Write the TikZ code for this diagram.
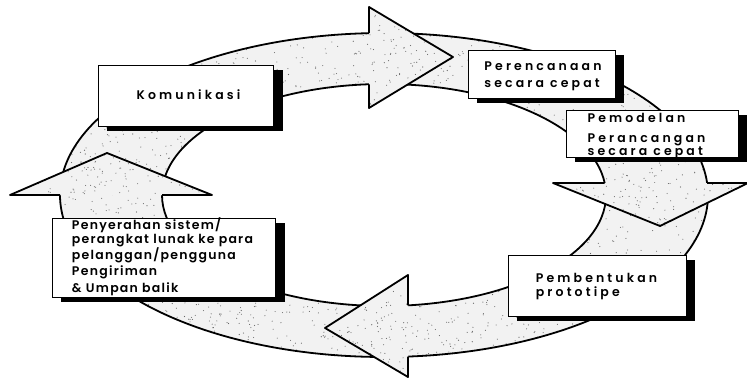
\documentclass[tikz,border=0pt]{standalone}
\usepackage{fontspec}
\setmainfont{Poppins}
\usetikzlibrary{calc}
\newfontfamily\boxfont{Poppins SemiBold}[LetterSpace=25]
\newfontfamily\boxfontn{Poppins SemiBold}[LetterSpace=10]
\begin{document}
\begin{tikzpicture}[x=1pt,y=-1pt,
  ringline/.style={line width=1.8pt, line join=round},
  ringfill/.style={fill=black!5},
  speck/.style={fill=black!60},
  shadowbox/.style={fill=black},
  box/.style={draw=black, line width=1pt, fill=white, inner sep=0pt, anchor=north west},
  boxtext/.style={inner sep=0pt, align=left},
  ]
\useasboundingbox (0,0) rectangle (747,378);
\pgfmathsetseed{4242}
% ring
\fill[ringfill, even odd rule] (384,195) ellipse [x radius=324, y radius=162]
  (384,195) ellipse [x radius=222, y radius=111];
\begin{scope}[even odd rule]
  \clip (384,195) ellipse [x radius=324, y radius=162]
    (384,195) ellipse [x radius=222, y radius=111];
  \foreach \i in {1,...,2600}{
    \fill[speck] ({60+rnd*648},{33+rnd*324}) circle [radius=0.55];
  }
\end{scope}
\draw[ringline] (384,195) ellipse [x radius=324, y radius=162];
\draw[ringline] (384,195) ellipse [x radius=222, y radius=111];
% arrowhead corners
\coordinate (t1) at (369,7);   \coordinate (tt) at (453,57);  \coordinate (t2) at (369,108);
\coordinate (to) at (369,33.2); \coordinate (ti) at (369,84.3);
\coordinate (r1) at (553,183); \coordinate (rt) at (660,226); \coordinate (r2) at (748,183);
\coordinate (ri) at (604.7,183); \coordinate (ro) at (707.1,183);
\coordinate (b1) at (408,275); \coordinate (bt) at (325,328); \coordinate (b2) at (408,377);
\coordinate (bi) at (408,305.3); \coordinate (bo) at (408,356.6);
\coordinate (l1) at (10,195);  \coordinate (lt) at (107,153); \coordinate (l2) at (212,195);
\coordinate (lo) at (60,195);  \coordinate (li) at (162,195);
\foreach \a/\t/\b/\p/\q in {t1/tt/t2/to/ti, r1/rt/r2/ri/ro, b1/bt/b2/bi/bo, l1/lt/l2/lo/li}{
  \fill[white] (\a) -- (\t) -- (\b) -- cycle;
  \fill[ringfill] (\a) -- (\t) -- (\b) -- cycle;
  \begin{scope}
    \clip (\a) -- (\t) -- (\b) -- cycle;
    \foreach \j in {1,...,70}{
      \pgfmathsetmacro{\ra}{rnd}\pgfmathsetmacro{\rb}{sqrt(rnd)}
      \fill[speck] ($(\t)!\rb!($(\a)!\ra!(\b)$)$) circle [radius=0.55];
    }
  \end{scope}
  \draw[ringline] (\p) -- (\a) -- (\t) -- (\b) -- (\q);
}
% box shadows
\fill[shadowbox] (107,70) rectangle (283,131);
\fill[shadowbox] (477,55) rectangle (624,103);
\fill[shadowbox] (575,115) rectangle (747,162);
\fill[shadowbox] (517,260) rectangle (695,321);
\fill[shadowbox] (61,223) rectangle (285,302);
% boxes
\node[box, minimum width=175pt, minimum height=61pt] (kom) at (98,65) {};
\node[box, minimum width=147pt, minimum height=48pt] (ren) at (468,50) {};
\node[box, minimum width=172pt, minimum height=47pt] (mod) at (566,110) {};
\node[box, minimum width=178pt, minimum height=61pt] (ben) at (508,255) {};
\node[box, minimum width=223pt, minimum height=79pt] (pen) at (52,218) {};
% texts
\node[boxtext, font=\fontsize{12.5}{14}\boxfont] (komt) at ([shift={(2.5,-1.5)}]kom.center) {Komunikasi};
\node[boxtext, font=\fontsize{12.5}{17}\boxfont] (rent) at ([shift={(1,1.5)}]ren.center) {Perencanaan\\secara cepat};
\node[boxtext, font=\fontsize{12.5}{13}\boxfont] (modt) at ([shift={(-6,2)}]mod.center)
  {Pemodelan\\[7pt]Perancangan\\secara cepat};
\node[boxtext, font=\fontsize{12.5}{14}\boxfont] (bent) at ([shift={(-1,0.5)}]ben.center) {Pembentukan\\prototipe};
\node[boxtext, font=\fontsize{12.5}{12.2}\boxfontn] (pent) at ([shift={(-1.5,-1)}]pen.center)
  {Penyerahan sistem/\\perangkat lunak ke para\\pelanggan/pengguna\\[2pt]Pengiriman\\[3pt]\& Umpan balik};
\end{tikzpicture}
\end{document}
